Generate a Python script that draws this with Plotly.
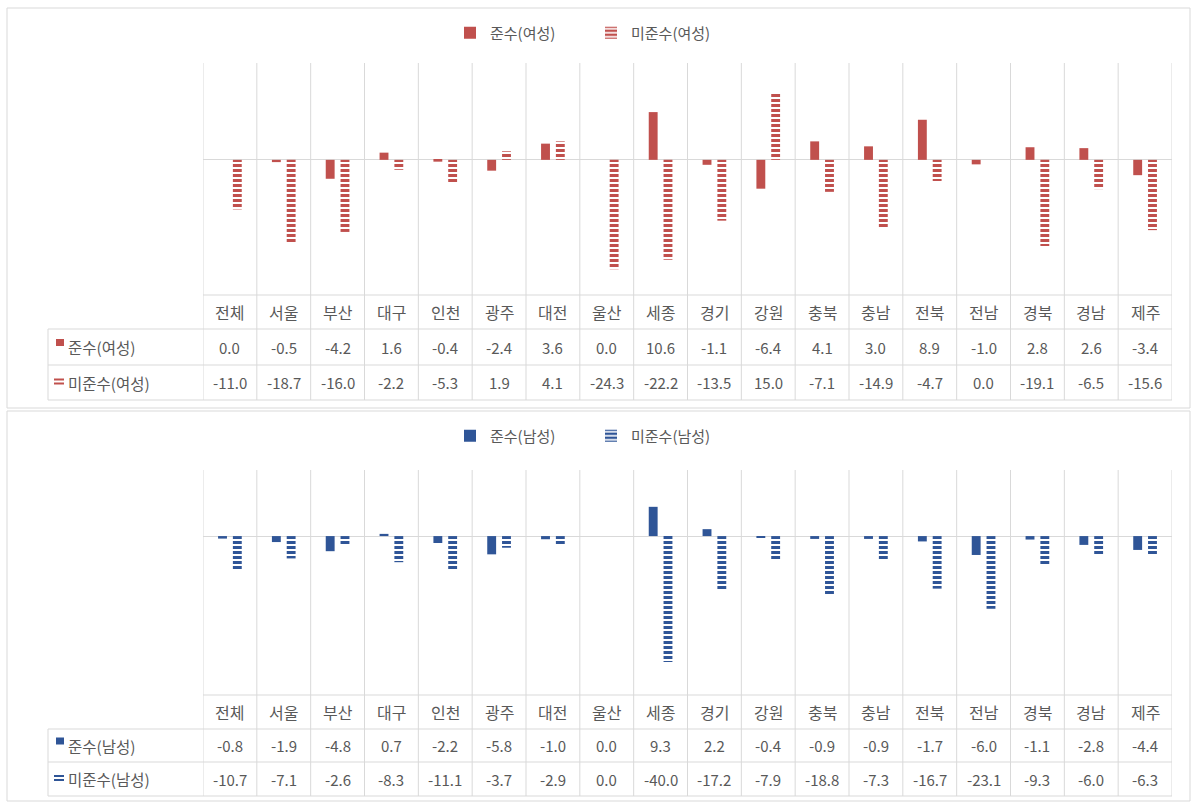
import plotly.graph_objects as go

# Regions (columns of both panels)
regions = ["전체", "서울", "부산", "대구", "인천", "광주", "대전", "울산", "세종",
           "경기", "강원", "충북", "충남", "전북", "전남", "경북", "경남", "제주"]

# Female series
female_comply = [0.0, -0.5, -4.2, 1.6, -0.4, -2.4, 3.6, 0.0, 10.6,
                 -1.1, -6.4, 4.1, 3.0, 8.9, -1.0, 2.8, 2.6, -3.4]
female_noncomply = [-11.0, -18.7, -16.0, -2.2, -5.3, 1.9, 4.1, -24.3, -22.2,
                    -13.5, 15.0, -7.1, -14.9, -4.7, 0.0, -19.1, -6.5, -15.6]

# Male series
male_comply = [-0.8, -1.9, -4.8, 0.7, -2.2, -5.8, -1.0, 0.0, 9.3,
               2.2, -0.4, -0.9, -0.9, -1.7, -6.0, -1.1, -2.8, -4.4]
male_noncomply = [-10.7, -7.1, -2.6, -8.3, -11.1, -3.7, -2.9, 0.0, -40.0,
                  -17.2, -7.9, -18.8, -7.3, -16.7, -23.1, -9.3, -6.0, -6.3]

series_names_f = ["준수(여성)", "미준수(여성)"]
series_names_m = ["준수(남성)", "미준수(남성)"]

RED = "#C0504D"
BLUE = "#2F5597"
GRID = "#D9D9D9"
TXT = "#595959"
FONT = "Noto Sans CJK KR"

W, H = 1192, 802


def px(x):
    return x / W


def py(y):
    return 1 - y / H


fig = go.Figure()

idx = list(range(len(regions)))


def add_pair(comply, noncomply, names, color, xa, ya, legend):
    fig.add_trace(go.Bar(
        x=idx, y=comply, name=names[0], xaxis=xa, yaxis=ya, legend=legend,
        width=0.165, offset=-0.22,
        marker=dict(color=color, line=dict(width=0)),
        hoverinfo="y",
    ))
    fig.add_trace(go.Bar(
        x=idx, y=noncomply, name=names[1], xaxis=xa, yaxis=ya, legend=legend,
        width=0.165, offset=0.055,
        marker=dict(color="rgba(255,255,255,0)", line=dict(width=0),
                    pattern=dict(shape="-", fgcolor=color, bgcolor="rgba(255,255,255,0)",
                                 size=5, solidity=0.6, fillmode="replace")),
        hoverinfo="y",
    ))


add_pair(female_comply, female_noncomply, series_names_f, RED, "x", "y", "legend")
add_pair(male_comply, male_noncomply, series_names_m, BLUE, "x2", "y2", "legend2")

# Panel geometry in pixels
X0, X1 = 203, 1172            # category columns
KEY_X0 = 48                   # start of the row-header column
panels = [
    dict(top=63, bottom=295, rows=[295, 329, 365, 400], xa="x", ya="y",
         data=[female_comply, female_noncomply], names=series_names_f, color=RED,
         yr=[-30, 21.5], legend_y=33, frame=(8, 408)),
    dict(top=470, bottom=695, rows=[695, 729, 762, 796], xa="x2", ya="y2",
         data=[male_comply, male_noncomply], names=series_names_m, color=BLUE,
         yr=[-50.5, 21], legend_y=436, frame=(411, 801)),
]

shapes = []
annotations = []

for k, p in enumerate(panels):
    sfx = "" if k == 0 else "2"
    fig.update_layout({
        f"xaxis{sfx}": dict(domain=[px(X0), px(X1)], range=[-0.5, len(regions) - 0.5],
                            anchor=f"y{sfx}", showgrid=False, zeroline=False,
                            showticklabels=False, showline=False, fixedrange=True),
        f"yaxis{sfx}": dict(domain=[py(p["bottom"]), py(p["top"])], range=p["yr"],
                            anchor=f"x{sfx}", showgrid=False, zeroline=True,
                            zerolinecolor=GRID, zerolinewidth=1,
                            showticklabels=False, showline=False, fixedrange=True),
    })

    # outer chart frame
    f0, f1 = p["frame"]
    shapes.append(dict(type="rect", xref="paper", yref="paper",
                       x0=px(7), x1=px(1190), y0=py(f1), y1=py(f0),
                       line=dict(color=GRID, width=1), layer="below"))

    # column separators running through plot area and data table
    for b in range(len(regions) + 1):
        shapes.append(dict(type="line", xref=p["xa"], yref="paper",
                           x0=b - 0.5, x1=b - 0.5, y0=py(p["rows"][3]), y1=py(p["top"]),
                           line=dict(color=GRID, width=1), layer="below"))

    # horizontal table lines
    r = p["rows"]
    shapes.append(dict(type="line", xref="paper", yref="paper",
                       x0=px(X0), x1=px(X1), y0=py(r[0]), y1=py(r[0]),
                       line=dict(color=GRID, width=1), layer="below"))
    for yy in r[1:]:
        shapes.append(dict(type="line", xref="paper", yref="paper",
                           x0=px(KEY_X0), x1=px(X1), y0=py(yy), y1=py(yy),
                           line=dict(color=GRID, width=1), layer="below"))
    shapes.append(dict(type="line", xref="paper", yref="paper",
                       x0=px(KEY_X0), x1=px(KEY_X0), y0=py(r[3]), y1=py(r[1]),
                       line=dict(color=GRID, width=1), layer="below"))

    # category labels
    cy = (r[0] + r[1]) / 2
    for i, name in enumerate(regions):
        annotations.append(dict(x=i, y=py(cy), xref=p["xa"], yref="paper",
                                text=name, showarrow=False,
                                xanchor="center", yanchor="middle",
                                font=dict(family=FONT, size=16, color=TXT)))

    # data rows
    for j, series in enumerate(p["data"]):
        ry = (r[j + 1] + r[j + 2]) / 2
        for i, v in enumerate(series):
            annotations.append(dict(x=i, y=py(ry), xref=p["xa"], yref="paper",
                                    text=f"{v:.1f}", showarrow=False,
                                    xanchor="center", yanchor="middle",
                                    font=dict(family=FONT, size=15, color=TXT)))
        # row header with legend key
        annotations.append(dict(x=px(66), y=py(ry), xref="paper", yref="paper",
                                text=p["names"][j], showarrow=False,
                                xanchor="left", yanchor="middle",
                                font=dict(family=FONT, size=15.5, color=TXT)))
        if j == 0:
            shapes.append(dict(type="rect", xref="paper", yref="paper",
                               x0=px(56), x1=px(64), y0=py(ry - 1), y1=py(ry - 8),
                               fillcolor=p["color"], line=dict(width=0)))
        else:
            for dy in (-4, 0):
                shapes.append(dict(type="rect", xref="paper", yref="paper",
                                   x0=px(54), x1=px(64), y0=py(ry + dy + 2), y1=py(ry + dy),
                                   fillcolor=p["color"], line=dict(width=0)))

legend_style = dict(orientation="h", xanchor="left", x=px(450), yanchor="middle",
                    font=dict(family=FONT, size=15, color=TXT),
                    bgcolor="rgba(0,0,0,0)", itemwidth=30, tracegroupgap=0,
                    entrywidth=96, entrywidthmode="pixels")

fig.update_layout(
    width=W, height=H, autosize=False,
    margin=dict(l=0, r=0, t=0, b=0),
    paper_bgcolor="white", plot_bgcolor="rgba(0,0,0,0)",
    barmode="overlay",
    showlegend=True,
    legend=dict(legend_style, y=py(panels[0]["legend_y"])),
    legend2=dict(legend_style, y=py(panels[1]["legend_y"])),
    shapes=shapes,
    annotations=annotations,
    font=dict(family=FONT, color=TXT),
)

fig.write_html("out.html")
